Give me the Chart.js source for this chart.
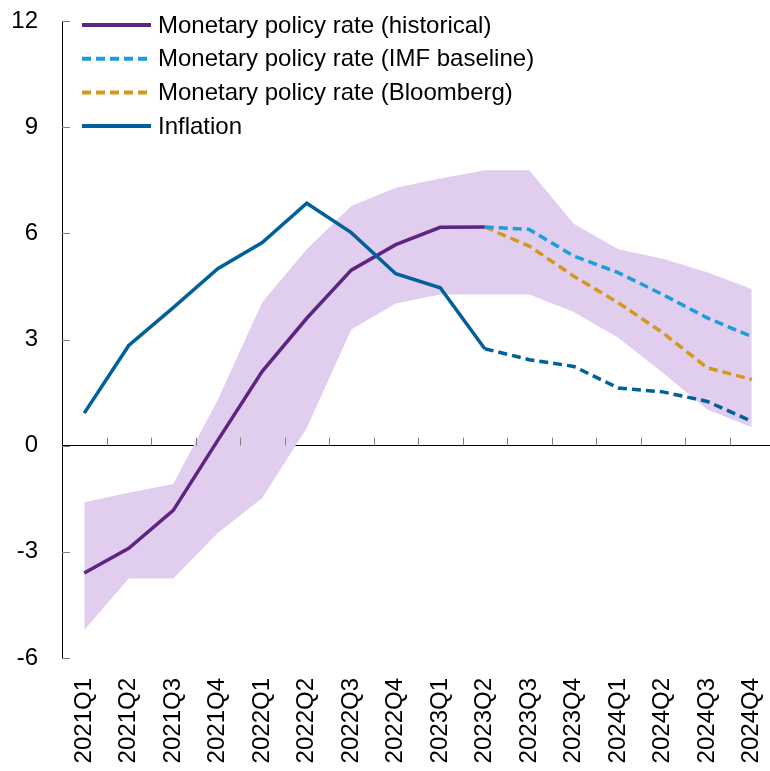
<!DOCTYPE html>
<html>
<head>
<meta charset="utf-8">
<script src="https://cdn.jsdelivr.net/npm/chart.js@4"></script>
<style>
  html, body { margin: 0; padding: 0; overflow: hidden; background: #fff; }
  #wrap { width: 774px; height: 771px; }
</style>
</head>
<body>
<div id="wrap"><canvas id="rateChart"></canvas></div>
<script>
// Quarters on the x axis
let quarters = ["2021Q1", "2021Q2", "2021Q3", "2021Q4", "2022Q1", "2022Q2", "2022Q3", "2022Q4",
                "2023Q1", "2023Q2", "2023Q3", "2023Q4", "2024Q1", "2024Q2", "2024Q3", "2024Q4"];

// Series values (percent)
let policyHistorical = [-3.6, -2.9, -1.83, 0.15, 2.1, 3.6, 4.96, 5.68, 6.17, 6.18,
                        null, null, null, null, null, null];
let policyImf = [null, null, null, null, null, null, null, null, null, 6.18,
                 6.11, 5.36, 4.89, 4.27, 3.61, 3.08];
let policyBloomberg = [null, null, null, null, null, null, null, null, null, 6.18,
                       5.64, 4.79, 4.04, 3.19, 2.2, 1.87];
let inflation = [0.92, 2.83, 3.9, 5.0, 5.74, 6.85, 6.02, 4.86, 4.46, 2.74,
                 2.43, 2.24, 1.63, 1.52, 1.25, 0.69];
let bandUpper = [-1.6, -1.33, -1.08, 1.3, 4.05, 5.55, 6.77, 7.29, 7.55, 7.78,
                 7.78, 6.27, 5.55, 5.28, 4.9, 4.43];
let bandLower = [-5.21, -3.75, -3.75, -2.47, -1.48, 0.5, 3.28, 4.02, 4.27, 4.27,
                 4.27, 3.78, 3.05, 2.06, 1.02, 0.52];

// Y axis ticks
let yTicks = [-6, -3, 0, 3, 6, 9, 12];

let dash = [9, 5];
let legendItems = [
    { text: "Monetary policy rate (historical)", color: "#5c2483", dash: [] },
    { text: "Monetary policy rate (IMF baseline)", color: "#1a9fdb", dash: dash },
    { text: "Monetary policy rate (Bloomberg)", color: "#d4991a", dash: dash },
    { text: "Inflation", color: "#00609c", dash: [] }
];

// Legend drawn inside the plot area, top left
const legendPlugin = {
    id: "insideLegend",
    afterDraw(chart) {
        let ctx = chart.ctx;
        ctx.save();
        ctx.font = "24px 'Liberation Sans', Arial, sans-serif";
        ctx.textBaseline = "middle";
        ctx.fillStyle = "#000";
        legendItems.forEach((item, i) => {
            let y = 25 + i * 33.7;
            ctx.beginPath();
            ctx.setLineDash(item.dash);
            ctx.lineWidth = 4;
            ctx.strokeStyle = item.color;
            ctx.moveTo(82, y);
            ctx.lineTo(151, y);
            ctx.stroke();
            ctx.setLineDash([]);
            ctx.fillText(item.text, 158, y + 1);
        });
        ctx.restore();
    }
};

// Inward tick marks on the y axis and on the zero line
const tickPlugin = {
    id: "innerTicks",
    afterDatasetsDraw(chart) {
        let ctx = chart.ctx;
        let xs = chart.scales.x, ys = chart.scales.y;
        let left = chart.chartArea.left;
        let y0 = ys.getPixelForValue(0);
        ctx.save();
        ctx.strokeStyle = "#7f7f7f";
        ctx.lineWidth = 1;
        yTicks.forEach(v => {
            let y = Math.round(ys.getPixelForValue(v)) + 0.5;
            ctx.beginPath();
            ctx.moveTo(left, y);
            ctx.lineTo(left + 8, y);
            ctx.stroke();
        });
        for (let k = 1; k < quarters.length; k++) {
            let x = Math.round((xs.getPixelForValue(k - 1) + xs.getPixelForValue(k)) / 2) + 0.5;
            ctx.beginPath();
            ctx.moveTo(x, y0);
            ctx.lineTo(x, y0 - 8);
            ctx.stroke();
        }
        ctx.restore();
    }
};

let ctx = document.getElementById("rateChart").getContext("2d");
let rateChart = new Chart(ctx, {
    type: "line",
    data: {
        labels: quarters,
        datasets: [
            {
                label: "Inflation",
                data: inflation,
                borderColor: "#00609c",
                borderWidth: 3.5,
                pointRadius: 0,
                fill: false,
                segment: { borderDash: c => c.p0DataIndex >= 9 ? dash : undefined }
            },
            {
                label: "Monetary policy rate (historical)",
                data: policyHistorical,
                borderColor: "#5c2483",
                borderWidth: 3.5,
                pointRadius: 0,
                fill: false
            },
            {
                label: "Monetary policy rate (IMF baseline)",
                data: policyImf,
                borderColor: "#1a9fdb",
                borderWidth: 3.5,
                borderDash: dash,
                pointRadius: 0,
                fill: false
            },
            {
                label: "Monetary policy rate (Bloomberg)",
                data: policyBloomberg,
                borderColor: "#d4991a",
                borderWidth: 3.5,
                borderDash: dash,
                pointRadius: 0,
                fill: false
            },
            {
                label: "Range upper",
                data: bandUpper,
                borderWidth: 0,
                borderColor: "rgba(0,0,0,0)",
                backgroundColor: "#e1ceee",
                pointRadius: 0,
                fill: "+1",
                order: 10
            },
            {
                label: "Range lower",
                data: bandLower,
                borderWidth: 0,
                borderColor: "rgba(0,0,0,0)",
                pointRadius: 0,
                fill: false,
                order: 10
            }
        ]
    },
    options: {
        responsive: true,
        maintainAspectRatio: false,
        animation: false,
        layout: { padding: { top: 21, left: 0, right: 0, bottom: 0 } },
        plugins: {
            legend: { display: false },
            tooltip: { enabled: false }
        },
        scales: {
            x: {
                offset: true,
                grid: { display: false, drawTicks: false, offset: true },
                border: { display: false },
                ticks: {
                    color: "#000",
                    font: { size: 24, family: "'Liberation Sans', Arial, sans-serif" },
                    minRotation: 90,
                    maxRotation: 90,
                    padding: 20,
                    autoSkip: false
                },
                afterFit(scale) {
                    scale.height = 113;
                    scale.paddingLeft = 0;
                    scale.paddingRight = 0;
                    scale.paddingTop = 0;
                    scale.paddingBottom = 0;
                }
            },
            y: {
                min: -6,
                max: 12,
                afterBuildTicks(scale) { scale.ticks = yTicks.map(v => ({ value: v })); },
                grid: {
                    drawTicks: false,
                    color: c => c.tick && c.tick.value === 0 ? "#000" : "rgba(0,0,0,0)",
                    lineWidth: 1
                },
                border: { display: true, color: "#000", width: 1 },
                ticks: {
                    color: "#000",
                    font: { size: 24, family: "'Liberation Sans', Arial, sans-serif" },
                    padding: 24
                },
                afterFit(scale) {
                    scale.width = 62;
                    scale.paddingTop = 0;
                    scale.paddingBottom = 0;
                    scale.paddingLeft = 0;
                    scale.paddingRight = 0;
                }
            }
        }
    },
    plugins: [tickPlugin, legendPlugin]
});
</script>
</body>
</html>
